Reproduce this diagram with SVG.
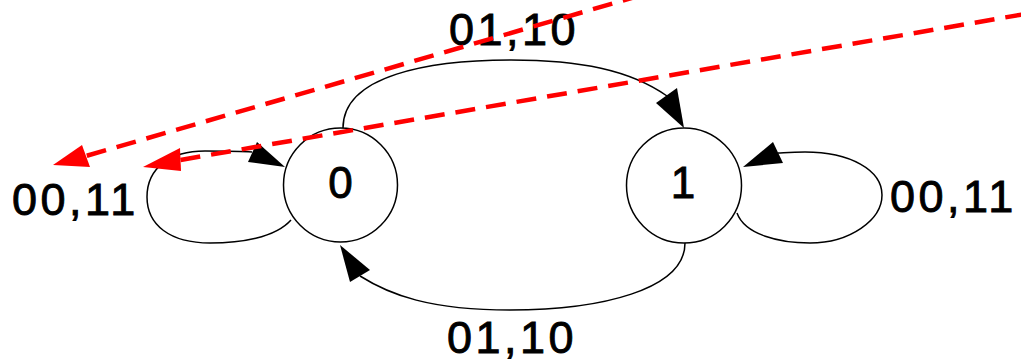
<svg xmlns="http://www.w3.org/2000/svg" width="1021" height="361" viewBox="0 0 1021 361">
<style>
.edge{fill:none;stroke:#000;stroke-width:1.5}
.node{fill:#fff;stroke:#000;stroke-width:1.5}
.lbl{font-family:"Liberation Sans",Arial,sans-serif;font-size:45px;letter-spacing:3.5px;fill:#000;stroke:#000;stroke-width:0.9}
.nl{font-family:"Liberation Sans",Arial,sans-serif;font-size:44px;fill:#000;stroke:#000;stroke-width:0.9;text-anchor:middle}
.red{fill:none;stroke:#ff0000;stroke-width:4.5;stroke-dasharray:20 11}
.arr{fill:#000}
.rarr{fill:#ff0000}
</style>
<rect width="1021" height="361" fill="#fff"/>
<g id="connectors">
  <path class="edge" d="M343,128 C343,75 430,60 511,60 C580,60 630,70 667,96"/>
  <polygon class="arr" points="684,128 656,103 677,88"/>
  <path class="edge" d="M685,243 C685,290 600,310 510,310 C430,310 390,295 360,276"/>
  <polygon class="arr" points="340,245 350,282 370,270"/>
  <path class="edge" d="M291,220 C275,238 240,243 210,243 C170,243 147,225 147,197 C147,168 170,151 205,151 C225,151 240,151 252,152"/>
  <polygon class="arr" points="285,167 257,142 248,162"/>
  <path class="edge" d="M737,213 C745,235 780,243 810,243 C850,243 882,220 882,195 C882,170 850,152 805,152 C790,152 782,153 778,153"/>
  <polygon class="arr" points="743,167 773,142 783,163"/>
  <text class="lbl" x="449" y="45">01,10</text>
  <text class="lbl" x="447" y="353">01,10</text>
  <text class="lbl" x="12" y="215">00,11</text>
  <text class="lbl" x="890" y="212">00,11</text>
</g>
<g id="node0">
  <circle class="node" cx="340.5" cy="185" r="57"/>
  <text class="nl" x="340.5" y="198">0</text>
</g>
<g id="node1">
  <circle class="node" cx="684" cy="185.5" r="57.5"/>
  <text class="nl" x="683" y="198">1</text>
</g>
<g id="overlay">
  <path class="red" d="M642,-5 L86,156"/>
  <polygon class="rarr" points="53,165 82,145 90,167"/>
  <path class="red" d="M1025,14 L180,160"/>
  <polygon class="rarr" points="143,167 180,148 181,171"/>
</g>
</svg>
